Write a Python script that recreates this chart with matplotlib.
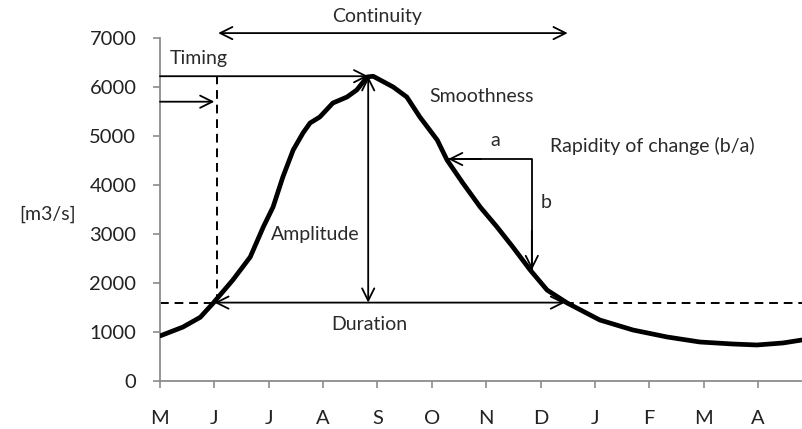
import matplotlib.pyplot as plt
import numpy as np

plt.rcParams['font.family'] = ['Lato', 'DejaVu Sans']

# hydrograph (month index from May, discharge m3/s)
month = [0.0, 0.42, 0.74, 0.98, 1.34, 1.66, 1.90, 2.08, 2.26, 2.45, 2.63,
         2.76, 2.94, 3.18, 3.44, 3.62, 3.81, 3.92, 4.05, 4.29, 4.54, 4.78,
         5.10, 5.28, 5.57, 5.89, 6.20, 6.49, 6.81, 7.12, 7.49, 8.09, 8.70,
         9.33, 9.93, 10.54, 10.98, 11.46, 11.81]
flow = [920, 1100, 1300, 1592, 2061, 2531, 3143, 3551, 4163, 4714, 5061,
        5265, 5388, 5673, 5796, 5939, 6204, 6220, 6143, 6000, 5796, 5388,
        4918, 4510, 4041, 3551, 3143, 2735, 2265, 1857, 1592, 1245, 1041,
        898, 796, 755, 735, 776, 837]
month_labels = ['M', 'J', 'J', 'A', 'S', 'O', 'N', 'D', 'J', 'F', 'M', 'A']

threshold = 1600
peak_x, peak_y = 3.83, 6220
rise_x, fall_x = 1.05, 7.45
slope_x0, slope_x1 = 5.30, 6.84
slope_y0, slope_y1 = 4530, 2265

fig = plt.figure(figsize=(8.02, 4.29), dpi=100)
ax = fig.add_axes([160 / 802, 48 / 429, 642 / 802, 343 / 429])

ax.plot(month, flow, color='black', lw=3.4, solid_capstyle='round',
        solid_joinstyle='round', zorder=5)

ax.set_xlim(0, 11.81)
ax.set_ylim(0, 7000)
ax.set_xticks(range(12))
ax.set_xticklabels(month_labels)
ax.set_yticks(range(0, 7001, 1000))
for s in ['top', 'right']:
    ax.spines[s].set_visible(False)
for s in ['left', 'bottom']:
    ax.spines[s].set_color('#8c8c8c')
    ax.spines[s].set_linewidth(1.3)
ax.tick_params(axis='both', colors='#8c8c8c', labelcolor='#222222',
               length=5, width=1.2, labelsize=14.5)
ax.tick_params(axis='x', pad=16)
ax.tick_params(axis='y', pad=12)

dash = dict(color='black', lw=1.4, ls=(0, (4.5, 3)))
ax.plot([0, rise_x], [threshold, threshold], **dash)
ax.plot([fall_x, 11.81], [threshold, threshold], **dash)
ax.plot([rise_x, rise_x], [threshold, peak_y], **dash)

arw = dict(arrowstyle='->', lw=1.3, color='black', mutation_scale=22,
           shrinkA=0, shrinkB=0)
arw2 = dict(arw, arrowstyle='<->')

# continuity
ax.annotate('', xy=(7.5, 7100), xytext=(1.07, 7100), arrowprops=arw2,
            annotation_clip=False)
# peak / timing
ax.annotate('', xy=(peak_x, peak_y), xytext=(0, peak_y), arrowprops=arw)
ax.annotate('', xy=(rise_x - 0.05, 5700), xytext=(0, 5700), arrowprops=arw)
# amplitude
ax.annotate('', xy=(peak_x, peak_y), xytext=(peak_x, threshold), arrowprops=arw2)
# duration
ax.annotate('', xy=(fall_x, threshold), xytext=(rise_x - 0.05, threshold),
            arrowprops=arw2)
# rapidity of change
ax.plot([slope_x0, slope_x1, slope_x1], [slope_y0, slope_y0, slope_y1],
        color='black', lw=1.3)
ax.annotate('', xy=(slope_x0, slope_y0), xytext=(slope_x0 + 0.6, slope_y0),
            arrowprops=arw)
ax.annotate('', xy=(slope_x1, slope_y1), xytext=(slope_x1, slope_y1 + 800),
            arrowprops=arw)

tk = dict(fontsize=14, color='#2a2a2a')
ax.text(3.99, 7430, 'Continuity', ha='center', va='center', clip_on=False, **tk)
ax.text(0.18, 6590, 'Timing', ha='left', va='center', **tk)
ax.text(4.95, 5816, 'Smoothness', ha='left', va='center', **tk)
ax.text(6.16, 4900, 'a', ha='center', va='center', **tk)
ax.text(7.17, 4800, 'Rapidity of change (b/a)', ha='left', va='center', **tk)
ax.text(7.10, 3650, 'b', ha='center', va='center', **tk)
ax.text(2.04, 2980, 'Amplitude', ha='left', va='center', **tk)
ax.text(3.85, 1163, 'Duration', ha='center', va='center', **tk)
fig.text(48 / 802, 1 - 214 / 429, '[m3/s]', ha='center', va='center', **tk)

fig.savefig('out.png', dpi=100)
